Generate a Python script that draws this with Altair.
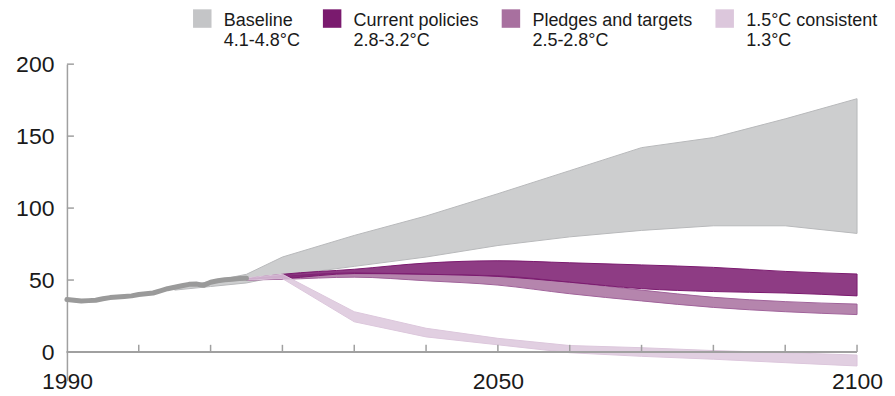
import altair as alt
import pandas as pd

# ---------------- data ----------------
hist_years = list(range(1990, 2016))
hist_values = [36.5, 36.0, 35.5, 35.7, 36.0, 37.0, 37.8, 38.2, 38.6, 39.0,
               40.0, 40.5, 41.0, 42.5, 44.0, 45.0, 46.0, 47.0, 47.2, 46.3,
               48.5, 49.5, 50.2, 50.6, 51.0, 51.3]

scen_names = ["Baseline", "Current policies", "Pledges and targets", "1.5°C consistent"]
scen_temps = ["4.1-4.8°C", "2.8-3.2°C", "2.5-2.8°C", "1.3°C"]
swatch_colors = ["#c4c5c7", "#7a1a6e", "#a8709f", "#dcc7dc"]
edge_colors = ["#b8b9bb", "#7a1a6e", "#a0629a", "#dcc7dc"]

base_years = [2005, 2010, 2015, 2020, 2030, 2040, 2050, 2060, 2070, 2080, 2090, 2100]
base_low = [43.0, 45.5, 48.0, 53.0, 59.5, 66.0, 74.0, 80.0, 84.5, 87.7, 87.7, 82.4]
base_high = [45.0, 49.0, 54.0, 66.0, 81.0, 94.5, 110.0, 126.0, 142.0, 149.0, 162.0, 176.0]

path_years = [2015, 2020, 2030, 2040, 2050, 2060, 2070, 2080, 2090, 2100]
cur_low = [50.0, 51.0, 54.5, 54.0, 52.5, 48.5, 44.0, 42.0, 41.0, 39.0]
cur_high = [51.0, 54.0, 57.5, 61.8, 63.4, 62.0, 60.5, 58.8, 56.0, 54.2]
pl_low = [50.0, 50.5, 52.0, 49.5, 46.5, 40.5, 35.5, 31.0, 28.0, 26.0]
pl_high = [50.5, 52.5, 55.0, 54.0, 53.0, 48.5, 43.0, 38.0, 35.0, 33.3]
c15_low = [50.0, 51.0, 21.0, 10.5, 5.0, -0.5, -3.0, -5.0, -7.4, -9.7]
c15_high = [51.5, 54.0, 28.0, 16.5, 9.5, 4.5, 3.0, 1.0, -0.5, -2.1]

y_tick_values = [0, 50, 100, 150, 200]
x_tick_values = list(range(2000, 2101, 10))
x_label_values = [1990, 2050, 2100]

# ---------------- tables ----------------
labels = [f"{n}\n{t}" for n, t in zip(scen_names, scen_temps)]

def band(idx, years, low, high):
    return pd.DataFrame({"scenario": labels[idx], "year": years, "low": low, "high": high})

bands = [
    band(0, base_years, base_low, base_high),
    band(1, path_years, cur_low, cur_high),
    band(2, path_years, pl_low, pl_high),
    band(3, path_years, c15_low, c15_high),
]
hist = pd.DataFrame({"year": hist_years, "value": hist_values})
yt = pd.DataFrame({"v": y_tick_values})
xt = pd.DataFrame({"t": x_tick_values})

FONT = "Liberation Sans"
xscale = alt.Scale(domain=[1990, 2100], nice=False, zero=False)
yscale = alt.Scale(domain=[-20, 200], nice=False, zero=False)
xaxis = alt.Axis(values=x_label_values, title=None, domain=False, ticks=False, tickSize=0,
                 labelPadding=1, labelBaseline="middle", labelFlush=False,
                 labelFontSize=23, format="d", grid=False)
yaxis = alt.Axis(values=y_tick_values, title=None, domain=True, domainColor="#a0a0a0",
                 domainWidth=1.5, ticks=False, tickSize=0, labelPadding=13,
                 labelFontSize=23, grid=False)

legend = alt.Legend(
    orient="none", legendX=126, legendY=-48, direction="horizontal", columns=4,
    title=None, labelFont=FONT, labelFontSize=18, labelColor="#1a1a1a",
    labelExpr="split(datum.label, '\\n')", labelBaseline="alphabetic",
    labelOffset=12, labelLimit=400, columnPadding=22, padding=0,
    symbolType="M-1,-1.8L1,-1.8L1,0.2L-1,0.2Z", symbolSize=342,
    symbolStrokeWidth=0, symbolOpacity=1,
)
color = alt.Color("scenario:N", scale=alt.Scale(domain=labels, range=swatch_colors), legend=legend)

def area_layer(i, interp):
    return alt.Chart(bands[i]).mark_area(
        fillOpacity=0.85, stroke=edge_colors[i], strokeWidth=1, interpolate=interp
    ).encode(
        x=alt.X("year:Q", scale=xscale, axis=xaxis),
        y=alt.Y("low:Q", scale=yscale, axis=yaxis),
        y2="high:Q",
        color=color,
    )

base_area = area_layer(0, "linear")
pl_area = area_layer(2, "monotone")
cur_area = area_layer(1, "monotone")
c15_area = area_layer(3, "linear")

hist_line = alt.Chart(hist).mark_line(color="#9a9a9a", strokeWidth=5, strokeCap="round",
                                      strokeJoin="round").encode(
    x=alt.X("year:Q", scale=xscale, axis=xaxis),
    y=alt.Y("value:Q", scale=yscale, axis=yaxis),
)

x_axis_line = alt.Chart(xt).mark_rule(color="#a0a0a0", strokeWidth=1.5).encode(
    x=alt.datum(1990), x2=alt.datum(2100), y=alt.datum(0)
)
x_ticks = alt.Chart(xt).mark_rule(color="#a0a0a0", strokeWidth=1.5).encode(
    x=alt.X("t:Q", scale=xscale, axis=xaxis), y=alt.datum(0), y2=alt.datum(5)
)
y_ticks = alt.Chart(yt).mark_rule(color="#a0a0a0", strokeWidth=1.5).encode(
    x=alt.value(0), x2=alt.value(7), y=alt.Y("v:Q", scale=yscale, axis=yaxis)
)

chart = alt.layer(
    base_area, pl_area, cur_area, c15_area, hist_line, x_axis_line, x_ticks, y_ticks
).properties(
    width=791, height=317,
    autosize=alt.AutoSizeParams(type="none"),
    padding={"left": 59, "top": 56, "right": 30, "bottom": 14},
).configure(
    style={"guide-label": {"lineHeight": 20}}
).configure_view(stroke=None).configure_axis(
    labelFont=FONT, labelColor="#1a1a1a", grid=False
)

chart.save("out.html", embed_options={"renderer": "svg", "actions": False})
